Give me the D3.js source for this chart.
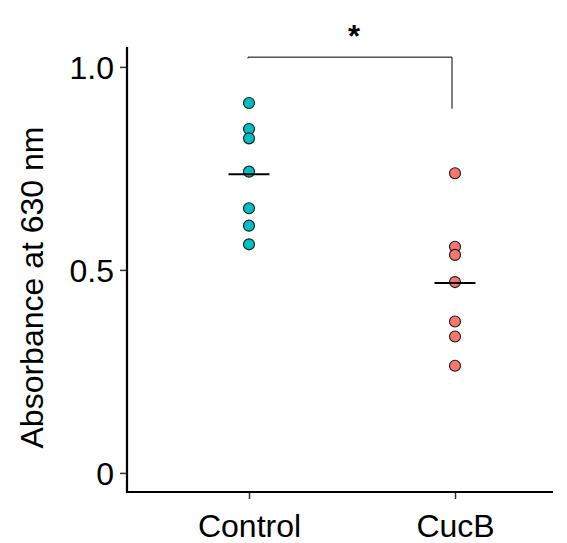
<!DOCTYPE html>
<html>
<head>
<meta charset="utf-8">
<script src="https://cdn.jsdelivr.net/npm/d3@7"></script>
<style>
  body { margin: 0; background: #fff; }
  text { font-family: "Liberation Sans", Arial, sans-serif; }
</style>
</head>
<body>
<svg id="chart" width="567" height="543"></svg>
<script>
// data
var groups = ["Control", "CucB"];
var colors = ["#00BFC4", "#F8766D"];
var controlVals = [0.911, 0.847, 0.824, 0.742, 0.652, 0.609, 0.563];
var cucbVals = [0.738, 0.557, 0.537, 0.470, 0.373, 0.336, 0.264];
var yTicks = [0, 0.5, 1.0];
var yTickLabels = ["0", "0.5", "1.0"];
// significance bracket: top, left end, right end
var bracket = [1.024, 1.021, 0.897];
var sigLabel = "*";

var svg = d3.select("#chart");
var plotLeft = 127, plotRight = 553, plotTop = 47, plotBottom = 492;
var fs = 32;

var y = d3.scaleLinear().domain([-0.047, 1.049]).range([plotBottom, plotTop]);
var x = d3.scalePoint().domain(groups).range([249, 455]);

// y axis
var yAxis = d3.axisLeft(y).tickValues(yTicks)
    .tickFormat(function(d, i) { return yTickLabels[i]; })
    .tickSize(7).tickPadding(6);
var gy = svg.append("g").attr("transform", "translate(" + plotLeft + ",0)").call(yAxis);
gy.select(".domain").remove();
gy.selectAll(".tick line").attr("stroke", "#333").attr("stroke-width", 1.5);
gy.selectAll(".tick text").attr("font-size", fs).attr("fill", "#000")
    .attr("font-family", "Liberation Sans, Arial, sans-serif").attr("dy", "0.36em");

// x axis
var xAxis = d3.axisBottom(x).tickSize(7).tickPadding(15);
var gx = svg.append("g").attr("transform", "translate(0," + plotBottom + ")").call(xAxis);
gx.select(".domain").remove();
gx.selectAll(".tick line").attr("stroke", "#333").attr("stroke-width", 1.5);
gx.selectAll(".tick text").attr("font-size", fs).attr("fill", "#000")
    .attr("font-family", "Liberation Sans, Arial, sans-serif");

// axis lines
svg.append("path")
    .attr("d", "M" + plotLeft + "," + plotTop + "V" + plotBottom + "H" + plotRight)
    .attr("fill", "none").attr("stroke", "#000").attr("stroke-width", 2.2);

// y title
svg.append("text")
    .attr("transform", "translate(43," + ((plotTop + plotBottom) / 2 + 18) + ") rotate(-90)")
    .attr("text-anchor", "middle")
    .attr("font-size", fs)
    .text("Absorbance at 630 nm");

// points
var series = [controlVals, cucbVals];
series.forEach(function(vals, i) {
  svg.append("g").selectAll("circle")
    .data(vals)
    .enter().append("circle")
    .attr("cx", x(groups[i]))
    .attr("cy", function(d) { return y(d); })
    .attr("r", 5.5)
    .attr("fill", colors[i])
    .attr("stroke", "#1a1a1a")
    .attr("stroke-width", 1.1);
});

// mean lines
series.forEach(function(vals, i) {
  var m = d3.mean(vals);
  svg.append("line")
    .attr("x1", x(groups[i]) - 20.5).attr("x2", x(groups[i]) + 20.5)
    .attr("y1", y(m)).attr("y2", y(m))
    .attr("stroke", "#000").attr("stroke-width", 2);
});

// significance bracket
var bx1 = x(groups[0]) - 1, bx2 = x(groups[1]) - 3;
svg.append("path")
    .attr("d", "M" + bx1 + "," + y(bracket[1]) + "V" + y(bracket[0]) +
               "H" + bx2 + "V" + y(bracket[2]))
    .attr("fill", "none").attr("stroke", "#000").attr("stroke-width", 1);
svg.append("text")
    .attr("x", (bx1 + bx2) / 2 + 4)
    .attr("y", y(bracket[0]) - 10)
    .attr("text-anchor", "middle")
    .attr("font-size", 31)
    .attr("font-weight", "bold")
    .text(sigLabel);
</script>
</body>
</html>
